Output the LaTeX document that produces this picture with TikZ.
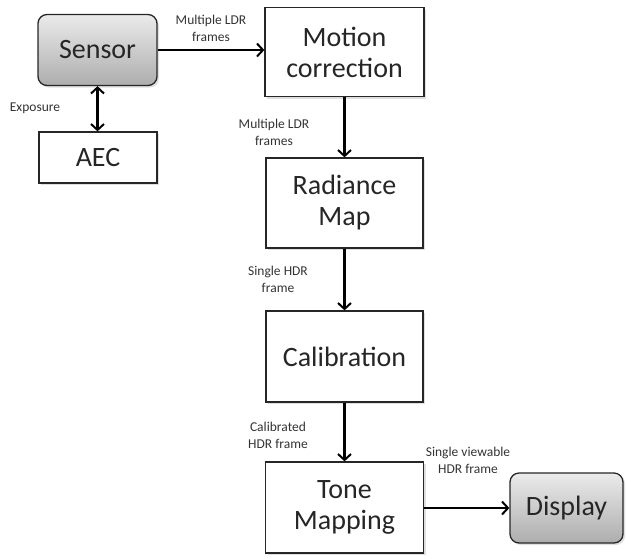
\documentclass[tikz,border=0pt]{standalone}
\usepackage{fontspec}
\setmainfont{Carlito}
\usetikzlibrary{arrows.meta,shadows}
\begin{document}
\begin{tikzpicture}[x=1pt,y=-1pt,
  box/.style={draw=black!85,line width=1.3pt,fill=white,inner sep=2pt,align=center,
    font=\fontsize{28}{31}\selectfont,text=black!85,drop shadow={shadow xshift=2pt,shadow yshift=-2pt,opacity=0.25}},
  gbox/.style={box,rounded corners=9pt,top color=black!8,bottom color=black!32},
  lbl/.style={align=center,font=\fontsize{13.5}{17}\selectfont,text=black!80,inner sep=0pt},
  arr/.style={line width=2.4pt,-{Straight Barb[length=6pt,width=13pt,line width=2pt]}},
  darr/.style={line width=2.4pt,{Straight Barb[length=6pt,width=13pt,line width=2pt]}-{Straight Barb[length=6pt,width=13pt,line width=2pt]}}
]
\useasboundingbox (0,0) rectangle (626,558);
\node[gbox,minimum width=119pt,minimum height=71pt] (sensor) at (97.5,50) {Sensor};
\node[box,minimum width=159pt,minimum height=89pt] (motion) at (344.5,52) {Motion\\correction};
\node[box,minimum width=118pt,minimum height=51pt] (aec) at (98,157.5) {AEC};
\node[box,minimum width=157pt,minimum height=90pt] (radiance) at (344.5,203) {Radiance\\Map};
\node[box,minimum width=157pt,minimum height=91pt] (calib) at (344.5,356.5) {Calibration};
\node[box,minimum width=158pt,minimum height=91pt] (tone) at (344.5,507.5) {Tone\\Mapping};
\node[gbox,minimum width=113pt,minimum height=70pt] (display) at (566.5,508) {Display};

\draw[arr] (sensor.east) -- (motion.west |- sensor.east);
\draw[darr] (sensor.south) -- (aec.north -| sensor.south);
\draw[arr] (motion.south) -- (radiance.north);
\draw[arr] (radiance.south) -- (calib.north);
\draw[arr] (calib.south) -- (tone.north);
\draw[arr] (tone.east |- display.west) -- (display.west);

\node[lbl] (l1) at (211,28) {Multiple LDR\\frames};
\node[lbl] (l2) at (35,108) {Exposure};
\node[lbl] (l3) at (274,132) {Multiple LDR\\frames};
\node[lbl] (l4) at (278,279) {Single HDR\\frame};
\node[lbl] (l5) at (278,435) {Calibrated\\HDR frame};
\node[lbl] (l6) at (468,460) {Single viewable\\HDR frame};
\end{tikzpicture}
\end{document}
